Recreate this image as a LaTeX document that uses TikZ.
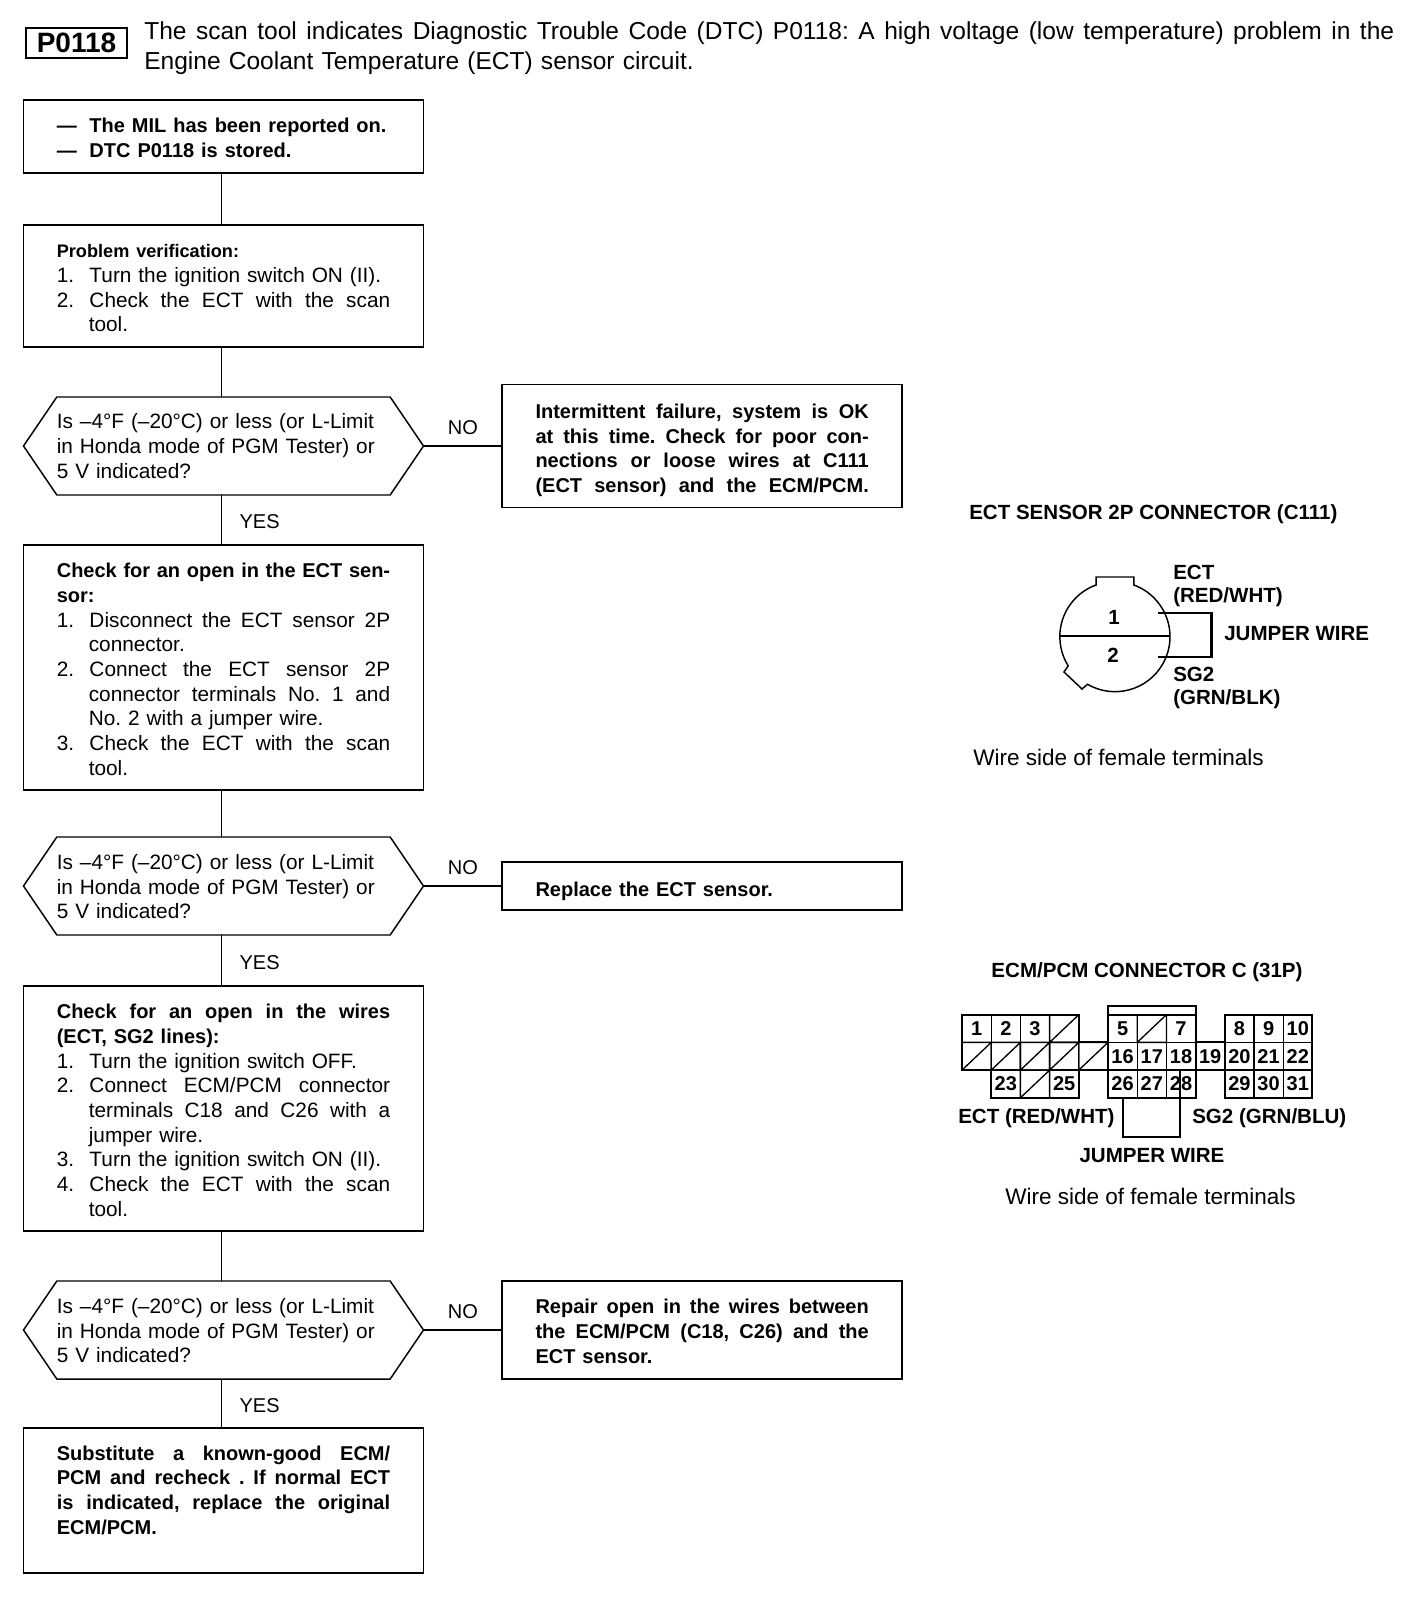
\documentclass[tikz,border=0pt]{standalone}
\usepackage{fontspec}
\setmainfont{Liberation Sans}
\usepackage{xcolor}
\usetikzlibrary{positioning}

\newcommand{\boxfont}{\fontsize{15.6}{18.5}\selectfont\frenchspacing}
\newcommand{\hd}{\fontsize{15}{18.5}\selectfont\bfseries\frenchspacing}
\newcommand{\lblfont}{\fontsize{15.4}{18.5}\selectfont\bfseries}
\newcommand{\fitline}[2]{\leavevmode\hbox to #1{\spaceskip=.278em plus 1fil minus .1em\xspaceskip=\spaceskip #2}}
\newcommand{\jl}[1]{\fitline{250pt}{#1}}
\newcommand{\nm}[2]{\makebox[24.5pt][l]{#1}#2}
\newcommand{\hg}[1]{\hspace*{24pt}#1}
\newcommand{\pad}[1]{\mbox{}\\[#1]}

\tikzset{
  flowbox/.style={draw,line width=1.1pt,outer sep=0pt,inner xsep=24.25pt,inner ysep=0pt,
    minimum width=300pt,minimum height=#1,text width=250pt,align=left,font=\boxfont},
  hexbox/.style={outer sep=0pt,inner xsep=24.25pt,inner ysep=0pt,
    minimum width=300pt,minimum height=73.5pt,text width=250pt,align=left,font=\boxfont,
    append after command={\pgfextra{\draw[line width=1.1pt]
      (\tikzlastnode.west) -- ([xshift=25pt]\tikzlastnode.north west)
      -- ([xshift=-25pt]\tikzlastnode.north east) -- (\tikzlastnode.east)
      -- ([xshift=-25pt]\tikzlastnode.south east) -- ([xshift=25pt]\tikzlastnode.south west) -- cycle;}}},
  wire/.style={line width=1.1pt},
  answer/.style={font=\fontsize{15}{18}\selectfont,inner xsep=13pt,inner ysep=8.3pt},
  lbl/.style={font=\lblfont,inner sep=0pt,align=left},
  plain/.style={font=\fontsize{16.9}{20}\selectfont,inner sep=0pt},
  cellnum/.style={draw,line width=1pt,minimum width=21.9pt,minimum height=20.775pt,inner sep=0pt,
    font=\fontsize{15}{15}\selectfont\bfseries},
  outline/.style={line width=1.6pt,line join=miter}
}

\begin{document}
\begin{tikzpicture}[x=0.75pt,y=-0.75pt,auto]
  \useasboundingbox (0,0) rectangle (1408,1612);
  \fill[white] (0,0) rectangle (1408,1612);

  % header
  \node[draw,line width=1.3pt,minimum width=75.5pt,minimum height=22.5pt,inner sep=0pt,
    font=\fontsize{21}{22}\selectfont\bfseries] (code) at (76.5,43) {P0118};
  \node[anchor=west,inner sep=0pt,font=\fontsize{18.4}{21}\selectfont\frenchspacing,text width=945pt,align=left] (title) at (144,48)
    {\fitline{937.5pt}{The scan tool indicates Diagnostic Trouble Code (DTC) P0118: A high voltage (low temperature) problem in the}\\[1.5pt]
     Engine Coolant Temperature (ECT) sensor circuit.};

  % left column
  \node[flowbox=54.75pt] (start) at (223.5,136.5)
    {\pad{-6pt}\hd \nm{---}{The MIL has been reported on.}\\ \nm{---}{DTC P0118 is stored.}};
  \node[flowbox=91.5pt] (verify) [below=39pt of start]
    {\pad{-5pt}{\fontsize{13.6}{18.5}\selectfont\bfseries Problem verification:}\\
     \nm{1.}{Turn the ignition switch ON (II).}\\
     \jl{\nm{2.}{Check the ECT with the scan}}\\
     \hg{tool.}};
  \node[hexbox] (ask1) [below=37.5pt of verify]
    {Is --4°F (--20°C) or less (or L-Limit\\ in Honda mode of PGM Tester) or\\ 5 V indicated?};
  \node[flowbox=183.75pt] (sensor) [below=37.5pt of ask1]
    {\pad{-5pt}\hd\jl{Check for an open in the ECT sen-}\\ sor:\\ \normalfont\boxfont
     \jl{\nm{1.}{Disconnect the ECT sensor 2P}}\\
     \hg{connector.}\\
     \jl{\nm{2.}{Connect the ECT sensor 2P}}\\
     \jl{\hspace*{24pt}connector terminals No. 1 and}\\
     \hg{No. 2 with a jumper wire.}\\
     \jl{\nm{3.}{Check the ECT with the scan}}\\
     \hg{tool.}};
  \node[hexbox] (ask2) [below=35.25pt of sensor]
    {\pad{-6pt}Is --4°F (--20°C) or less (or L-Limit\\ in Honda mode of PGM Tester) or\\ 5 V indicated?};
  \node[flowbox=183.75pt] (wires) [below=38.25pt of ask2]
    {\pad{-5pt}\hd\jl{Check for an open in the wires}\\ (ECT, SG2 lines):\\ \normalfont\boxfont
     \nm{1.}{Turn the ignition switch OFF.}\\
     \jl{\nm{2.}{Connect ECM/PCM connector}}\\
     \jl{\hspace*{24pt}terminals C18 and C26 with a}\\
     \hg{jumper wire.}\\
     \nm{3.}{Turn the ignition switch ON (II).}\\
     \jl{\nm{4.}{Check the ECT with the scan}}\\
     \hg{tool.}};
  \node[hexbox] (ask3) [below=37.5pt of wires]
    {\pad{-6pt}Is --4°F (--20°C) or less (or L-Limit\\ in Honda mode of PGM Tester) or\\ 5 V indicated?};
  \node[flowbox=108.75pt] (ecm) [below=36.75pt of ask3]
    {\hd\jl{Substitute a known-good ECM/}\\
     \jl{PCM and recheck . If normal ECT}\\
     \jl{is indicated, replace the original}\\
     ECM/PCM.\\[-2.4pt]\mbox{}};

  % right column
  \node[flowbox=92.25pt] (fail) [right=59pt of ask1]
    {\pad{-0.9pt}\hd\jl{Intermittent failure, system is OK}\\
     \jl{at this time. Check for poor con-}\\
     \jl{nections or loose wires at C111}\\
     \jl{(ECT sensor) and the ECM/PCM.}};
  \node[flowbox=36pt] (replace) [right=59pt of ask2]
    {\pad{0.7pt}\hd Replace the ECT sensor.};
  \node[flowbox=73.5pt] (repair) [right=59pt of ask3]
    {\pad{-5.5pt}\hd\jl{Repair open in the wires between}\\
     \jl{the ECM/PCM (C18, C26) and the}\\
     ECT sensor.};

  % connectors
  \foreach \a/\b in {start/verify,verify/ask1,sensor/ask2,wires/ask3}
    \draw[wire] ([xshift=-1.5pt]\a.south) -- ([xshift=-1.5pt]\b.north);
  \foreach \a/\b in {ask1/sensor,ask2/wires,ask3/ecm}
    \path[draw,wire] ([xshift=-1.5pt]\a.south) -- node[answer,yshift=-1.5pt] {YES} ([xshift=-1.5pt]\b.north);
  \foreach \a/\b in {ask1/fail,ask2/replace,ask3/repair}
    \path[draw,wire] (\a.east) -- node[answer] {NO} (\b.west);

  % ECT sensor connector
  \node[lbl,anchor=west] (ectname) at (969,514) {ECT SENSOR 2P CONNECTOR (C111)};
  \draw[line width=1.1pt] (1096,585) arc[start angle=110,end angle=212,radius=41.25pt]
    -- (1064,672) -- (1082,689) -- (1087.5,684.3) arc[start angle=240,end angle=430,radius=41.25pt]
    -- (1133.8,577) -- (1096,577) -- cycle;
  \coordinate (splitl) at (1060,636);
  \coordinate (splitr) at (1170,636);
  \draw[line width=.8pt] (splitl) -- (splitr);
  \node[lbl] (pin1) at (1114,617) {1};
  \node[lbl] (pin2) at (1113,655) {2};
  \coordinate (jtop) at (1158,613);
  \coordinate (jbot) at (1158,657);
  \draw[outline] (jtop) -- (1211.5,613) -- (1211.5,657) -- (jbot);
  \node[lbl,anchor=west] (ectpin) at (1173,572) {ECT};
  \node[lbl,anchor=west] (ectcol) at (1173,597) {(RED/WHT)};
  \node[lbl,anchor=west] (jumpa) at (1224,634) {JUMPER WIRE};
  \node[lbl,anchor=west] (sgpin) at (1173,674) {SG2};
  \node[lbl,anchor=west] (sgcol) at (1173,699) {(GRN/BLK)};
  \node[plain,anchor=west] (sidea) at (973,757) {Wire side of female terminals};

  % ECM/PCM connector
  \node[lbl] (ecmname) at (1147,972) {ECM/PCM CONNECTOR C (31P)};
  \begin{scope}[shift={(962,1014.7)},x=21.9pt,y=-20.775pt]
    \foreach \c/\r/\t in {0/0/1,1/0/2,2/0/3,5/0/5,7/0/7,9/0/8,10/0/9,11/0/10,
        5/1/16,6/1/17,7/1/18,8/1/19,9/1/20,10/1/21,11/1/22,
        1/2/23,3/2/25,5/2/26,6/2/27,7/2/28,9/2/29,10/2/30,11/2/31}
      \node[cellnum] (pin\t) at (\c+.5,\r+.5) {\t};
    \foreach \c/\r in {3/0,6/0,0/1,1/1,2/1,3/1,4/1,2/2}
      \draw[line width=1pt] (\c,\r) rectangle (\c+1,\r+1) (\c,\r+1) -- (\c+1,\r);
    \draw[outline] (0,1) -- (0,0) -- (4,0) -- (4,1) -- (5,1) (0,1) -- (0,2) -- (1,2) -- (1,3) -- (4,3) -- (4,2) -- (5,2);
    \draw[outline] (5,-.3) rectangle (8,3) (5,0) -- (8,0);
    \draw[outline] (8,1) -- (9,1) (8,2) -- (9,2);
    \draw[outline] (9,0) rectangle (12,3);
    \draw[outline] (5.52,3) -- (5.52,4.42) -- (7.47,4.42) -- (7.47,2);
  \end{scope}
  \node[lbl,anchor=west] (ectwire) at (958,1118) {ECT (RED/WHT)};
  \node[lbl,anchor=west] (sgwire) at (1192,1118) {SG2 (GRN/BLU)};
  \node[lbl] (jumpb) at (1152,1156) {JUMPER WIRE};
  \node[plain,anchor=west] (sideb) at (1005,1196) {Wire side of female terminals};
\end{tikzpicture}
\end{document}
